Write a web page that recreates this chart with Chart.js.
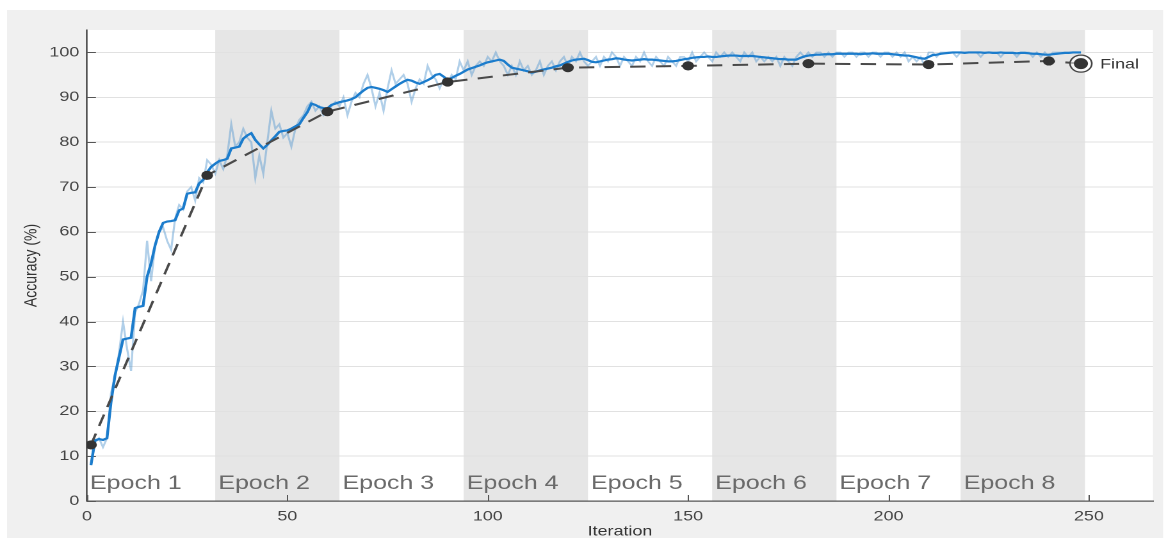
<!DOCTYPE html>
<html>
<head>
<meta charset="utf-8">
<title>Training Progress</title>
<script src="https://cdn.jsdelivr.net/npm/chart.js@4/dist/chart.umd.min.js"></script>
<style>
  html, body { margin: 0; padding: 0; background: #ffffff; overflow: hidden; }
  #wrap { width: 916px; height: 538px; transform-origin: 0 0; transform: scaleX(1.2806); }
</style>
</head>
<body>
<div id="wrap"><canvas id="chart" width="916" height="538"></canvas></div>
<script>
// Mini-batch training accuracy (%), one value per iteration starting at 1
const trainAccRaw = [
  8, 13, 14, 12, 14, 24, 28, 33, 40, 34,
  29, 42, 44, 47, 58, 49, 57, 60, 61, 58,
  56, 63, 66, 65, 69, 70, 67, 72, 71, 76,
  75, 73, 76, 74, 77, 84, 79, 80, 83, 81,
  80, 72, 77, 73, 80, 87, 83, 84, 81, 82,
  79, 83, 85, 86, 88, 89, 87, 88, 86, 87,
  88, 89, 88, 90, 86, 89, 91, 90, 93, 95,
  92, 88, 91, 87, 92, 96, 93, 94, 95, 93,
  89, 92, 94, 93, 97, 95, 94, 92, 94, 93,
  95, 94, 98, 96, 98, 95, 97, 98, 97, 99,
  98, 100, 98, 97, 95, 97, 95, 98, 96, 97,
  95, 96, 98, 95, 97, 98, 96, 98, 99, 97,
  99, 98, 100, 98, 97, 98, 99, 97, 99, 98,
  100, 99, 97, 99, 98, 97, 99, 98, 100, 98,
  97, 99, 98, 97, 99, 98, 97, 99, 99, 98,
  100, 98, 99, 100, 99, 98, 100, 99, 100, 99,
  100, 99, 98, 100, 99, 100, 98, 99, 98, 99,
  98, 99, 97, 99, 98, 97, 99, 100, 99, 100,
  99, 100, 100, 99, 100, 99, 100, 100, 99, 100,
  100, 99, 100, 100, 99, 100, 100, 99, 100, 100,
  99, 100, 99, 100, 98, 99, 98, 99, 97, 100,
  100, 99, 100, 100, 100, 100, 99, 100, 100, 100,
  100, 100, 99, 100, 100, 100, 100, 99, 100, 100,
  100, 99, 100, 100, 100, 99, 100, 99, 100, 99,
  100, 100, 100, 100, 100, 100, 100, 100
];

// Smoothed training accuracy (%), same iterations
const trainAccSmooth = [
  8, 13.5, 13.8, 13.6, 14, 22, 28, 32, 36, 36.2,
  36.4, 43, 43.3, 43.5, 50, 53, 57, 60, 62, 62.3,
  62.4, 62.6, 64.8, 65.2, 68.5, 68.7, 68.8, 70.8, 71.6, 73.3,
  74.5, 75.2, 75.8, 76, 76.3, 78.6, 78.8, 79, 80.8, 81.5,
  82, 80.5, 79.5, 78.6, 79.4, 80.4, 81.3, 82.3, 82.5, 82.6,
  83, 83.5, 84, 85.4, 86.7, 88.6, 88.3, 87.8, 87.6, 87.5,
  88.3, 88.6, 88.9, 89.1, 89.3, 89.6, 90, 90.8, 91.5, 92.1,
  92.3, 92.1, 91.9, 91.6, 91.2, 91.8, 92.4, 93, 93.5, 93.9,
  93.7, 93.3, 93, 93.4, 93.8, 94.3, 95, 95.2, 94.6, 93.9,
  94.3, 94.8, 95.2, 95.7, 96.2, 96.5, 96.8, 97.1, 97.5, 97.8,
  98, 98.2, 98.4, 98.1, 97.3, 96.6, 96.4, 96.2, 96, 95.8,
  95.5, 95.7, 96, 96.2, 96.4, 96.6, 96.9, 97.1, 97.5, 97.9,
  98.2, 98.4, 98.5, 98.6, 98.3, 97.9, 97.8, 98, 98.2, 98.4,
  98.5, 98.7, 98.6, 98.4, 98.3, 98.2, 98.3, 98.4, 98.5, 98.4,
  98.4, 98.3, 98.2, 98.1, 98, 98, 98.1, 98.3, 98.5, 98.6,
  98.8, 98.9, 99, 99, 99.1, 99, 99, 99.1, 99.2, 99.3,
  99.3, 99.3, 99.2, 99.2, 99.2, 99.2, 99.1, 99, 98.9, 98.8,
  98.7, 98.6, 98.5, 98.5, 98.4, 98.4, 98.4, 98.8, 99.1, 99.3,
  99.4, 99.5, 99.5, 99.6, 99.6, 99.6, 99.7, 99.7, 99.7, 99.7,
  99.7, 99.7, 99.6, 99.7, 99.7, 99.8, 99.7, 99.7, 99.7, 99.7,
  99.6, 99.5, 99.4, 99.3, 99.3, 99.1, 98.9, 98.7, 98.6, 99,
  99.4, 99.5, 99.7, 99.8, 99.9, 100, 100, 100, 99.9, 100,
  100, 100, 100, 99.9, 100, 99.9, 99.9, 100, 99.9, 99.9,
  99.9, 99.8, 99.9, 99.9, 99.8, 99.7, 99.7, 99.6, 99.5, 99.5,
  99.6, 99.7, 99.8, 99.9, 99.9, 100, 100, 100
];

// Validation checks
const valIterations = [1, 30, 60, 90, 120, 150, 180, 210, 240];
const valAccuracy   = [12.5, 72.6, 86.8, 93.4, 96.6, 97.0, 97.5, 97.3, 98.1];

// Final validation result
const finalIteration = 248;
const finalAccuracy  = 97.5;
const finalLabel = 'Final';

// Epoch boundaries (iterations) and their labels
const epochEdges  = [0, 32, 63, 94, 125, 156, 187, 218, 249];
const epochLabels = ['Epoch 1', 'Epoch 2', 'Epoch 3', 'Epoch 4', 'Epoch 5', 'Epoch 6', 'Epoch 7', 'Epoch 8'];

// Axis ticks
const xTickValues = [0, 50, 100, 150, 200, 250];
const yTickValues = [0, 10, 20, 30, 40, 50, 60, 70, 80, 90, 100];

const FONT = "'Liberation Sans', Arial, Helvetica, sans-serif";

const toPoints = (ys) => ys.map((v, i) => ({ x: i + 1, y: v }));
const pairPoints = (xs, ys) => xs.map((x, i) => ({ x, y: ys[i] }));

const decor = {
  id: 'decor',
  beforeDraw(chart) {
    const { ctx, chartArea: a, scales: { x } } = chart;
    ctx.save();
    ctx.fillStyle = '#ffffff';
    ctx.fillRect(0, 0, chart.width, chart.height);
    ctx.fillStyle = '#f0f0f0';
    ctx.fillRect(5.5, 10, 902.7, chart.height - 10);
    ctx.fillStyle = '#ffffff';
    ctx.fillRect(a.left, a.top, a.right - a.left, a.bottom - a.top);
    // shade every second epoch
    ctx.fillStyle = '#e6e6e6';
    for (let k = 1; k < epochEdges.length - 1; k += 2) {
      const x0 = x.getPixelForValue(epochEdges[k]);
      const x1 = x.getPixelForValue(epochEdges[k + 1]);
      ctx.fillRect(x0, a.top, x1 - x0, a.bottom - a.top);
    }
    ctx.restore();
  },
  beforeDatasetsDraw(chart) {
    const { ctx, chartArea: a, scales: { x, y } } = chart;
    ctx.save();
    // epoch names along the bottom
    ctx.fillStyle = '#6a6a6a';
    ctx.font = '19.5px ' + FONT;
    ctx.textAlign = 'left';
    ctx.textBaseline = 'alphabetic';
    epochLabels.forEach((t, k) => {
      ctx.fillText(t, x.getPixelForValue(epochEdges[k]) + 2.4, a.bottom - 12);
    });
    // inward tick marks
    ctx.strokeStyle = '#555555';
    ctx.lineWidth = 1;
    ctx.beginPath();
    yTickValues.forEach(v => {
      const py = Math.round(y.getPixelForValue(v)) + 0.5;
      ctx.moveTo(a.left, py); ctx.lineTo(a.left + 7, py);
    });
    xTickValues.forEach(v => {
      const px = Math.round(x.getPixelForValue(v)) + 0.5;
      ctx.moveTo(px, a.bottom); ctx.lineTo(px, a.bottom - 6);
    });
    ctx.stroke();
    ctx.restore();
  },
  afterDatasetsDraw(chart) {
    const { ctx, scales: { x, y } } = chart;
    ctx.save();
    ctx.fillStyle = '#333333';
    ctx.font = '14px ' + FONT;
    ctx.textAlign = 'left';
    ctx.textBaseline = 'middle';
    ctx.fillText(finalLabel, x.getPixelForValue(finalIteration) + 15, y.getPixelForValue(finalAccuracy) + 1);
    ctx.restore();
  }
};

new Chart(document.getElementById('chart'), {
  type: 'line',
  data: {
    datasets: [
      {
        label: 'Final',
        data: [{ x: finalIteration, y: finalAccuracy }],
        showLine: false,
        pointRadius: 5.5,
        pointBackgroundColor: '#333333',
        pointBorderWidth: 0,
        order: 0
      },
      {
        label: 'Final ring',
        data: [{ x: finalIteration, y: finalAccuracy }],
        showLine: false,
        pointRadius: 8.5,
        pointBackgroundColor: 'rgba(255,255,255,0.55)',
        pointBorderColor: '#444444',
        pointBorderWidth: 1.3,
        order: 1
      },
      {
        label: 'Validation',
        data: pairPoints(valIterations, valAccuracy).concat([{ x: finalIteration, y: finalAccuracy }]),
        borderColor: '#4a4a4a',
        borderWidth: 2,
        borderDash: [12, 8],
        pointRadius: valIterations.map(() => 4.6).concat([0]),
        pointBackgroundColor: '#333333',
        pointBorderWidth: 0,
        order: 2
      },
      {
        label: 'Training (smoothed)',
        data: toPoints(trainAccSmooth),
        borderColor: '#1b7ccc',
        borderWidth: 2.2,
        pointRadius: 0,
        order: 3
      },
      {
        label: 'Training',
        data: toPoints(trainAccRaw),
        borderColor: 'rgba(90,155,210,0.48)',
        borderWidth: 1.6,
        pointRadius: 0,
        order: 4
      }
    ]
  },
  options: {
    responsive: false,
    devicePixelRatio: 2,
    animation: false,
    events: [],
    layout: { padding: { left: 0, right: 15.6, top: 30, bottom: 0 } },
    plugins: { legend: { display: false }, tooltip: { enabled: false } },
    scales: {
      x: {
        type: 'linear',
        min: 0,
        max: 266,
        afterBuildTicks: (s) => { s.ticks = xTickValues.map(v => ({ value: v })); },
        afterFit: (s) => { s.height = 37; },
        grid: { display: false, drawTicks: false },
        border: { display: true, color: '#555555', width: 1.2 },
        ticks: { color: '#444444', font: { family: FONT, size: 14 }, padding: 7, maxRotation: 0 },
        title: { display: true, text: 'Iteration', color: '#333333', font: { family: FONT, size: 14 }, padding: { top: 0, bottom: -2 } }
      },
      y: {
        type: 'linear',
        min: 0,
        max: 105,
        afterBuildTicks: (s) => { s.ticks = yTickValues.map(v => ({ value: v })); },
        afterFit: (s) => { s.width = 67.9; },
        grid: { color: '#e1e1e1', lineWidth: 1, drawTicks: false },
        border: { display: true, color: '#555555', width: 1.4 },
        ticks: { color: '#444444', font: { family: FONT, size: 14 }, padding: 6 },
        title: { display: true, text: 'Accuracy (%)', color: '#333333', font: { family: FONT, size: 14 }, padding: { top: 16, bottom: 0 } }
      }
    }
  },
  plugins: [decor]
});
</script>
</body>
</html>
